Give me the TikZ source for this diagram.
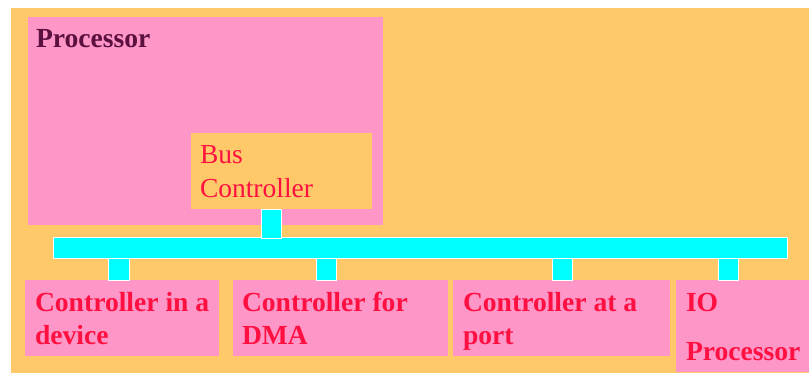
\documentclass[tikz,border=0pt]{standalone}
\usepackage{fontspec}
\setmainfont{Liberation Serif}
\definecolor{bgorange}{HTML}{FFC869}
\definecolor{boxpink}{HTML}{FF96C8}
\definecolor{busred}{HTML}{FF1040}
\definecolor{procdark}{HTML}{5C1040}
\definecolor{buscyan}{HTML}{00FFFF}
\begin{document}
\begin{tikzpicture}[x=1pt,y=-1pt,
  box/.style={fill=boxpink,draw=none,inner sep=0,outer sep=0},
  obox/.style={fill=bgorange,draw=none,inner sep=0,outer sep=0},
  link/.style={fill=buscyan,draw=white,line width=0.8pt,inner sep=0,outer sep=0},
  lbl/.style={anchor=base west,inner sep=0,outer sep=0,font=\fontsize{27.6}{33}\selectfont\bfseries,text=busred},
  lblreg/.style={anchor=base west,inner sep=0,outer sep=0,font=\fontsize{27.5}{33}\selectfont,text=busred}]
\useasboundingbox (0,0) rectangle (809,373);
\fill[white] (0,0) rectangle (809,373);
\fill[bgorange] (11,8) rectangle (809,373);
% processor and bus controller
\node[box,minimum width=355,minimum height=208,anchor=north west] (proc) at (28,17) {};
\node[obox,minimum width=181,minimum height=76,anchor=north west] (bc) at (191,133) {};
% bus
\node[link,minimum width=734,minimum height=21,anchor=north west] (bus) at (53,237) {};
% lower boxes
\node[box,minimum width=194,minimum height=76,anchor=north west] (b1) at (25,280) {};
\node[box,minimum width=215,minimum height=76,anchor=north west] (b2) at (233,280) {};
\node[box,minimum width=217,minimum height=76,anchor=north west] (b3) at (453,280) {};
\node[box,minimum width=133,minimum height=92,anchor=north west] (b4) at (676,280) {};
% stubs (connectors)
\node[link,minimum width=20,minimum height=29,anchor=north west] (s0) at (261,209) {};
\node[link,minimum width=21,minimum height=22,anchor=north west] (s1) at (108,258) {};
\node[link,minimum width=20,minimum height=22,anchor=north west] (s2) at (316,258) {};
\node[link,minimum width=20,minimum height=22,anchor=north west] (s3) at (552,258) {};
\node[link,minimum width=20,minimum height=22,anchor=north west] (s4) at (718,258) {};
% texts
\node[lbl,text=procdark] (tproc) at (36,47) {Processor};
\node[lblreg] (tbc1) at (200,163) {Bus};
\node[lblreg] (tbc2) at (200,197) {Controller};
\node[lbl] (t1a) at (35,311) {Controller in a};
\node[lbl] (t1b) at (35,344) {device};
\node[lbl] (t2a) at (242,311) {Controller for};
\node[lbl] (t2b) at (242,344) {DMA};
\node[lbl] (t3a) at (463,311) {Controller at a};
\node[lbl] (t3b) at (463,344) {port};
\node[lbl] (t4a) at (686,311) {IO};
\node[lbl] (t4b) at (686,360) {Processor};
\end{tikzpicture}
\end{document}
